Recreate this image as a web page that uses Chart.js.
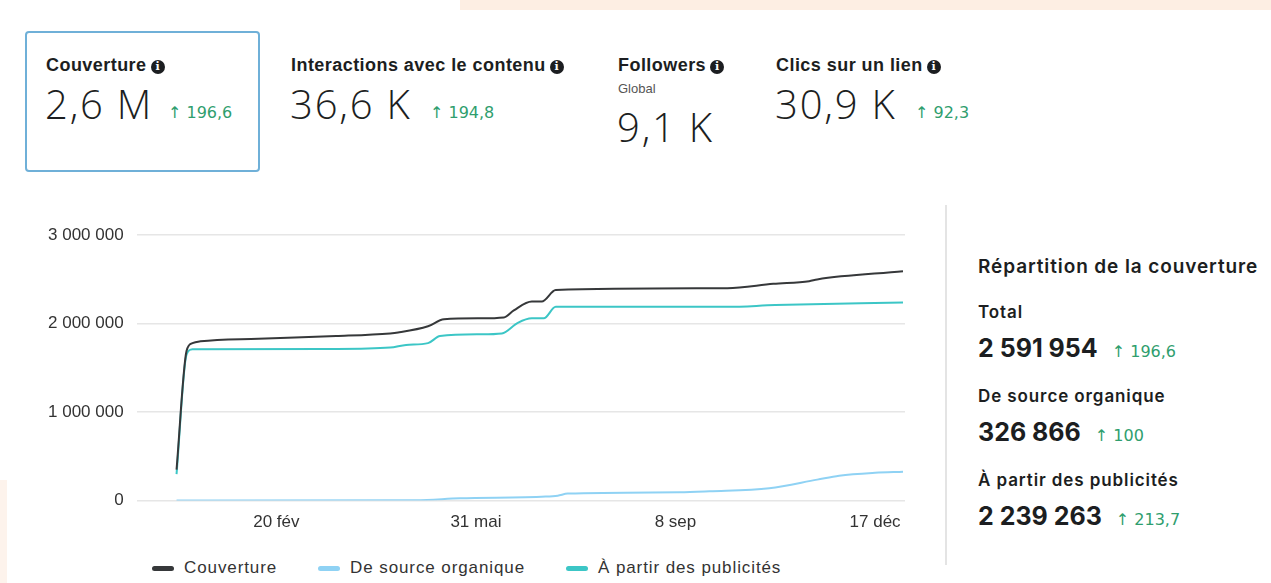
<!DOCTYPE html>
<html lang="fr">
<head>
<meta charset="utf-8">
<script src="https://cdn.jsdelivr.net/npm/chart.js@4.4.1/dist/chart.umd.min.js"></script>
<style>
  html, body { margin: 0; padding: 0; background: #fff; }
  body { width: 1271px; height: 583px; position: relative; overflow: hidden; font-family: "Liberation Sans", Arial, sans-serif; color: #1c1e21; }
  .peach-top { position: absolute; left: 460px; top: 0; width: 811px; height: 10px; background: #fdeee3; }
  .peach-left { position: absolute; left: 0; top: 480px; width: 7px; height: 103px; background: #fdf3ec; }
  .card { position: absolute; top: 31px; height: 141px; box-sizing: border-box; }
  .card.active { left: 25px; width: 235px; border: 2px solid #6fb0d8; border-radius: 4px; }
  .title { position: absolute; font-size: 18px; letter-spacing: 0.45px; font-weight: bold; white-space: nowrap; color: #1c1e21; }
  .info { display: inline-block; width: 14px; height: 14px; border-radius: 50%; background: #1c1e21; color: #fff; font-size: 11px; line-height: 14px; text-align: center; font-weight: bold; vertical-align: 1px; margin-left: 4px; letter-spacing: 0; font-family: "DejaVu Serif", serif; }
  .big { position: absolute; font-family: "Open Sans", sans-serif; font-weight: 300; font-size: 40px; letter-spacing: 1.8px; white-space: nowrap; color: #1c1e21; }
  .delta { position: absolute; font-family: "DejaVu Sans", sans-serif; font-size: 16px; color: #2f9e6e; white-space: nowrap; }
  .sub { position: absolute; font-size: 13px; color: #555; }
  .divider { position: absolute; left: 945px; top: 205px; width: 2px; height: 360px; background: #e4e4e4; }
  .side { position: absolute; left: 978px; font-family: Inter, sans-serif; white-space: nowrap; color: #1c1e21; }
  .side.h { font-size: 19px; font-weight: 600; letter-spacing: 0.9px; }
  .side.l { font-size: 17px; font-weight: 600; letter-spacing: 0.9px; }
  .side.v { font-size: 25px; font-weight: 700; }
  .side .d { font-family: "DejaVu Sans", sans-serif; font-size: 16px; font-weight: 400; color: #2f9e6e; margin-left: 14px; letter-spacing: 0; }
  #wrap { position: absolute; left: 35px; top: 212px; width: 870px; height: 325px; }
  #legend { position: absolute; left: 152px; top: 558px; display: flex; gap: 41px; font-size: 17px; letter-spacing: 0.9px; color: #333; white-space: nowrap; }
  #legend .item { display: flex; align-items: center; gap: 10px; }
  #legend .mark { width: 22px; height: 5px; border-radius: 3px; }
</style>
</head>
<body>
<div class="peach-top"></div>
<div class="peach-left"></div>

<div class="card active"></div>
<div class="title" style="left:46px;top:55px">Couverture<span class="info">i</span></div>
<div class="big" style="left:45px;top:76px">2,6 M</div>
<div class="delta" style="left:168px;top:103px">↑ 196,6</div>

<div class="title" style="left:291px;top:55px">Interactions avec le contenu<span class="info">i</span></div>
<div class="big" style="left:290px;top:76px">36,6 K</div>
<div class="delta" style="left:430px;top:103px">↑ 194,8</div>

<div class="title" style="left:618px;top:55px">Followers<span class="info">i</span></div>
<div class="sub" style="left:618px;top:81px">Global</div>
<div class="big" style="left:617px;top:99px">9,1 K</div>

<div class="title" style="left:776px;top:55px">Clics sur un lien<span class="info">i</span></div>
<div class="big" style="left:775px;top:76px">30,9 K</div>
<div class="delta" style="left:915px;top:103px">↑ 92,3</div>

<div class="divider"></div>
<div class="side h" style="top:255px">Répartition de la couverture</div>
<div class="side l" style="top:302px">Total</div>
<div class="side v" style="top:333px">2 591 954<span class="d">↑ 196,6</span></div>
<div class="side l" style="top:386px">De source organique</div>
<div class="side v" style="top:417px">326 866<span class="d">↑ 100</span></div>
<div class="side l" style="top:470px">À partir des publicités</div>
<div class="side v" style="top:501px">2 239 263<span class="d">↑ 213,7</span></div>

<div id="wrap"><canvas id="myChart"></canvas></div>
<div id="legend"></div>

<script>
// day of year (0 = 1 jan) and values
const coverDays = [0, 5, 8, 12, 41, 80, 107, 111, 126, 134, 152, 164, 169, 178, 183, 190, 276, 299, 317, 321, 364]
const coverValues = [350000, 1690000, 1780000, 1800000, 1830000, 1860000, 1890000, 1900000, 1970000, 2050000, 2060000, 2070000, 2150000, 2250000, 2250000, 2380000, 2400000, 2450000, 2480000, 2500000, 2591954]

const organicDays = [0, 120, 142, 185, 191, 196, 252, 267, 297, 321, 332, 350, 364]
const organicValues = [0, 5000, 26000, 45000, 56000, 79000, 94000, 105000, 139000, 237000, 282000, 315000, 326866]

const adsDays = [0, 5, 8, 80, 107, 115, 126, 132, 152, 163, 171, 178, 184, 190, 276, 300, 364]
const adsValues = [300000, 1650000, 1710000, 1715000, 1730000, 1760000, 1780000, 1860000, 1880000, 1890000, 2010000, 2060000, 2060000, 2190000, 2190000, 2210000, 2239263]

const tickDays = [50, 150, 250, 350]
const tickLabels = ['20 fév', '31 mai', '8 sep', '17 déc']
const seriesNames = ['Couverture', 'De source organique', 'À partir des publicités']
const seriesColors = ['#36383a', '#8fd2f4', '#3cc6c6']

function toPoints(days, values) {
    return days.map((d, i) => ({ x: d, y: values[i] }))
}

function formatNumber(v) {
    return String(v).replace(/\B(?=(\d{3})+(?!\d))/g, ' ')
}

window.addEventListener('load', () => {

    const data = {
        datasets: [
            { label: seriesNames[0], data: toPoints(coverDays, coverValues) },
            { label: seriesNames[1], data: toPoints(organicDays, organicValues) },
            { label: seriesNames[2], data: toPoints(adsDays, adsValues) }
        ].map((ds, i) => Object.assign(ds, {
            borderColor: seriesColors[i],
            backgroundColor: seriesColors[i],
            borderWidth: 2,
            pointRadius: 0,
            cubicInterpolationMode: 'monotone',
            fill: false
        }))
    }

    const config = {
        type: 'line',
        data: data,
        options: {
            responsive: true,
            maintainAspectRatio: false,
            animation: false,
            plugins: {
                tooltip: { enabled: false },
                legend: { display: false }
            },
            scales: {
                x: {
                    type: 'linear',
                    min: -20,
                    max: 365,
                    grid: { display: false },
                    border: { display: false },
                    afterBuildTicks: (axis) => {
                        axis.ticks = tickDays.map(v => ({ value: v }))
                    },
                    ticks: {
                        padding: 4,
                        maxRotation: 0,
                        autoSkip: false,
                        color: '#333',
                        font: { family: 'Liberation Sans', size: 17 },
                        callback: (value) => tickLabels[tickDays.indexOf(value)]
                    }
                },
                y: {
                    min: 0,
                    max: 3000000,
                    grid: { color: '#e6e6e6', lineWidth: 1.5, drawTicks: false },
                    border: { display: false },
                    ticks: {
                        stepSize: 1000000,
                        padding: 13,
                        color: '#333',
                        font: { family: 'Liberation Sans', size: 17 },
                        callback: (value) => formatNumber(value)
                    }
                }
            }
        }
    }

    let chartCanvas = new Chart(document.querySelector('#myChart'), config)

    // legend drawn from the chart's own datasets
    document.querySelector('#legend').innerHTML = chartCanvas.data.datasets.map(ds =>
        `<div class="item"><span class="mark" style="background:${ds.borderColor}"></span>${ds.label}</div>`
    ).join('')
})
</script>
</body>
</html>
